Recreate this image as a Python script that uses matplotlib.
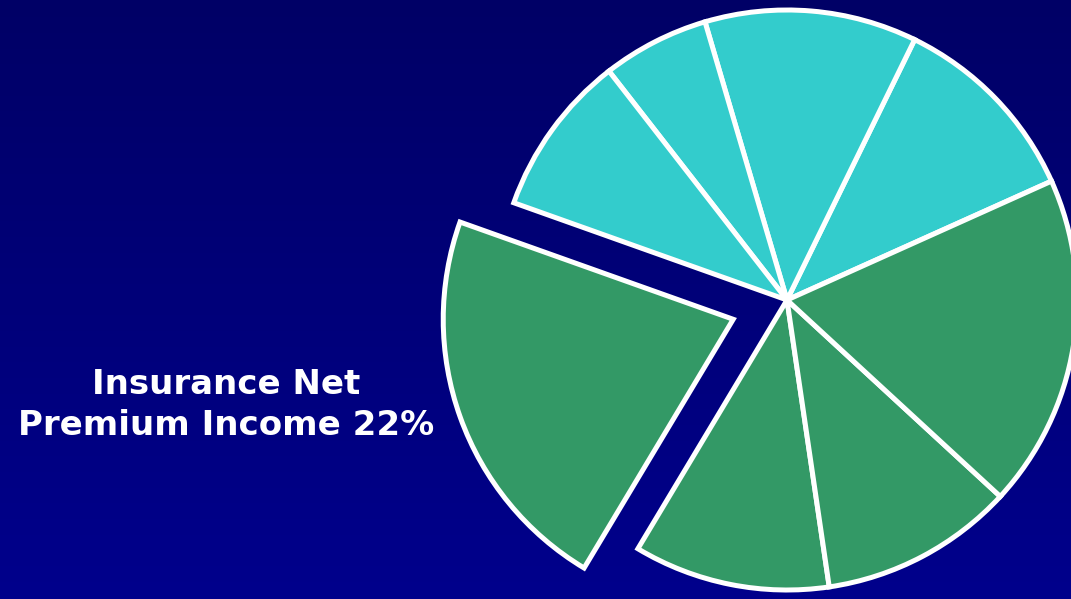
import numpy as np
import matplotlib
matplotlib.use("Agg")
import matplotlib.pyplot as plt
from matplotlib.colors import LinearSegmentedColormap

# Share of revenue by segment (percent), counter-clockwise from the start angle
segments = ["Seg A", "Seg B", "Seg C", "Seg D", "Insurance Net Premium Income",
            "Seg F", "Seg G", "Seg H"]
shares = [11.1, 11.9, 6.0, 9.1, 22, 11.0, 10.9, 18.7]
teal = "#33CCCC"
green = "#339966"
slice_colors = [teal, teal, teal, teal, green, green, green, green]
label_text = "Insurance Net\nPremium Income 22%"

W, H = 1071, 599
R = 290
fig = plt.figure(figsize=(W / 100, H / 100), dpi=100)
ax = fig.add_axes([0, 0, 1, 1])

# vertical navy-to-blue background
grad = np.linspace(0, 1, 256).reshape(-1, 1)
cmap = LinearSegmentedColormap.from_list("bg", ["#00008C", "#000066"])
ax.imshow(grad, extent=[0, W, 0, H], origin="lower", cmap=cmap,
          aspect="auto", zorder=0)

# pull the insurance slice out from the centre
explode = [0.0 if s != segments[4] else 0.197 * R for s in segments]
ax.pie(shares, colors=slice_colors, explode=explode, startangle=24.2,
       counterclock=True, center=(787, 299), radius=R,
       wedgeprops=dict(edgecolor="white", linewidth=3.6, zorder=2),
       frame=True)
ax.set_xlim(0, W)
ax.set_ylim(0, H)
ax.set_aspect("equal")
ax.axis("off")

ax.text(226, 194, label_text, ha="center", va="center", color="white",
        fontsize=24.5, fontweight="bold", family="DejaVu Sans",
        linespacing=1.27, zorder=3)

fig.savefig("out.png", dpi=100, facecolor="#000066")
